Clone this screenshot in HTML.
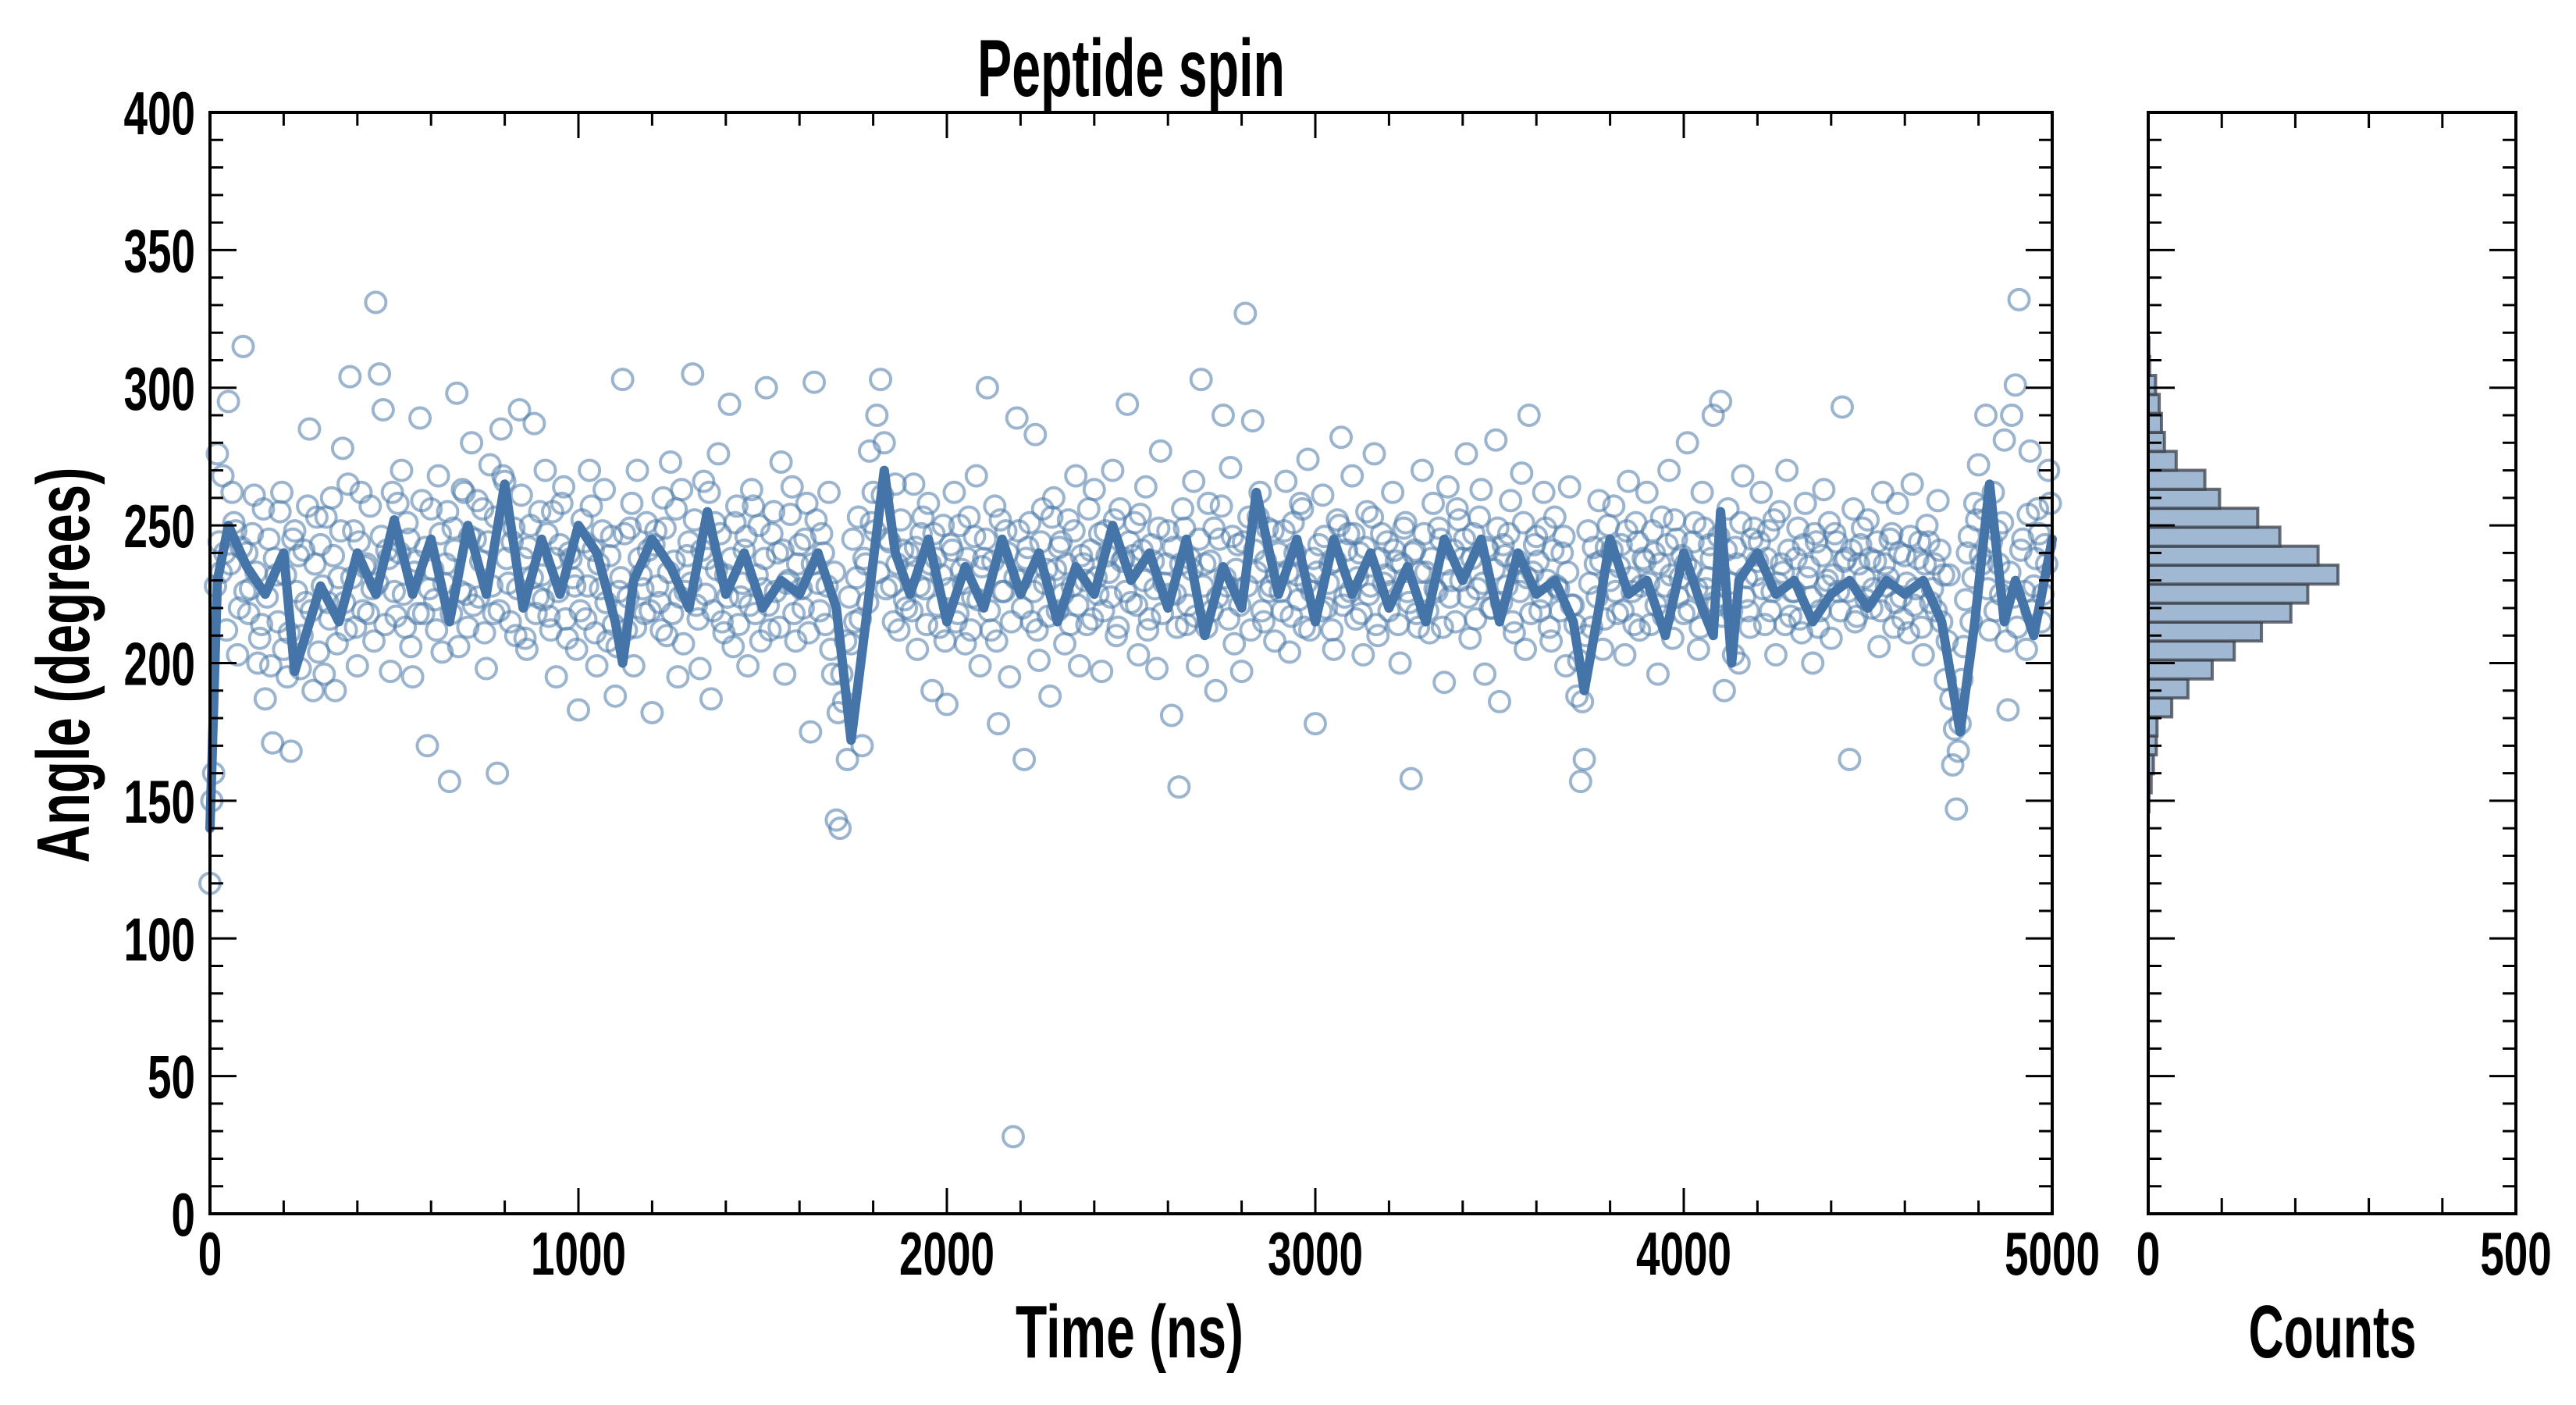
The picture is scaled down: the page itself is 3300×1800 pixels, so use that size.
<!DOCTYPE html>
<html><head><meta charset="utf-8"><style>
html,body{margin:0;padding:0;background:#fff}
svg{display:block}
text{font-family:"Liberation Sans Narrow","Liberation Sans",sans-serif;font-weight:bold;fill:#000}
</style></head><body>
<svg id="chart" width="3300" height="1800" viewBox="0 0 3300 1800" xmlns="http://www.w3.org/2000/svg">
<rect width="3300" height="1800" fill="#fff"/>
<g id="scatterG"></g>
<g id="lineG"></g>
<g id="histG"></g>
<g id="axesG"></g>
<text x="1449" y="123" font-size="104" text-anchor="middle" textLength="394" lengthAdjust="spacingAndGlyphs">Peptide spin</text>
<text x="1447" y="1739" font-size="96" text-anchor="middle" textLength="292" lengthAdjust="spacingAndGlyphs">Time (ns)</text>
<text x="2988" y="1739" font-size="96" text-anchor="middle" textLength="215" lengthAdjust="spacingAndGlyphs">Counts</text>
<text transform="translate(114,852) rotate(-90)" x="0" y="0" font-size="96" text-anchor="middle" textLength="507" lengthAdjust="spacingAndGlyphs">Angle (degrees)</text>
</svg>
<script>
const scatterStep = 10;
const scatterValues = [
120,160,276,233,240,295,262,248,220,315,
240,227,261,200,214,187,245,171,232,255,
205,195,168,248,239,210,222,285,190,253,
243,196,222,260,190,231,278,212,304,248,
199,262,235,218,227,331,305,292,241,197,
226,258,270,213,245,195,237,289,218,170,
256,223,268,204,236,157,249,298,226,262,
213,280,245,224,256,198,272,218,160,285,
266,229,244,210,292,238,205,250,287,224,
232,270,217,255,195,243,264,209,238,228,
183,252,216,270,241,199,227,263,208,246,
188,226,303,212,249,199,270,232,218,241,
182,248,222,260,210,273,237,195,263,226,
244,305,221,198,266,238,187,251,276,215,
232,294,206,257,224,241,199,263,218,250,
227,300,212,255,240,273,196,230,264,208,
243,220,258,175,302,229,247,214,262,196,
143,140,186,165,207,215,253,170,236,277,
262,290,303,280,245,228,265,212,241,220,
232,265,205,247,227,258,190,238,213,250,
185,243,262,218,234,207,253,224,268,199,
238,300,212,257,178,226,248,195,28,289,
230,165,242,215,283,201,256,234,188,260,
219,244,207,252,228,268,199,236,214,241,
263,225,197,248,233,270,210,256,238,294,
222,251,203,241,264,216,237,198,277,229,
248,181,225,155,256,214,238,266,199,303,
236,258,219,190,245,290,228,271,207,243,
197,327,253,288,233,262,215,249,228,208,
240,219,266,204,251,232,258,213,274,226,
178,243,261,220,236,205,252,282,224,247,
268,216,240,203,255,228,276,210,247,232,
219,262,237,200,249,226,158,241,213,270,
233,211,258,226,245,193,264,230,215,252,
238,276,209,247,227,263,196,241,220,281,
186,243,228,259,211,237,269,205,290,233,
246,219,262,230,208,253,227,240,199,264,
221,188,157,165,248,213,236,259,205,242,
230,257,218,243,203,266,226,251,212,238,
262,214,240,196,253,228,270,209,245,231,
218,280,234,251,205,262,227,243,290,221,
295,190,256,219,242,200,268,231,213,249,
237,262,214,248,226,203,255,233,270,217,
226,249,211,258,235,200,244,219,263,230,
209,247,226,293,238,165,256,217,243,231,
252,220,237,206,262,228,245,213,258,224,
239,211,265,227,244,203,250,222,236,259,
215,194,232,163,147,178,206,240,215,258,
272,236,290,212,262,248,225,281,183,290,
301,332,245,205,277,228,256,215,243,270];
const scatterValues2 = [
150,228,244,268,212,236,251,203,242,226,
218,247,233,209,256,224,199,238,215,262,
232,211,245,226,198,241,257,219,236,204,
228,253,216,239,207,248,222,265,231,213,
244,219,236,257,208,229,246,214,238,262,
217,240,225,251,206,233,218,259,242,227,
234,212,247,229,255,218,241,206,263,225,
246,221,259,237,211,244,228,253,219,268,
238,215,249,227,261,209,242,231,218,255,
223,247,212,238,226,258,216,240,231,205,
219,244,228,257,211,236,248,222,239,214,
206,231,247,224,258,213,238,227,251,219,
243,228,212,249,233,218,256,224,207,239,
229,252,216,241,225,262,219,234,247,211,
224,238,251,214,229,246,221,257,232,208,
238,221,247,226,213,241,229,254,218,236,
227,245,211,236,252,219,240,228,205,233,
182,196,208,224,245,231,216,238,222,251,
248,233,261,227,244,215,236,252,223,240,
219,242,228,253,214,236,247,221,232,208,
227,241,215,250,229,238,212,246,223,235,
245,219,237,208,252,226,240,215,231,248,
220,238,251,226,212,244,229,217,253,234,
242,225,236,214,248,221,239,230,256,216,
231,247,219,239,224,252,213,237,226,244,
239,221,254,230,212,243,227,249,218,236,
225,242,213,236,249,221,234,217,245,228,
213,237,249,224,257,231,216,246,234,221,
244,228,212,241,253,219,237,226,248,232,
226,248,233,217,240,223,256,229,212,238,
233,219,246,229,212,237,250,221,241,226,
247,231,218,242,225,253,214,238,229,244,
226,241,214,236,251,222,240,218,233,247,
219,238,227,249,213,236,224,241,256,230,
245,224,238,216,253,229,242,220,234,249,
222,239,247,215,236,226,251,231,218,243,
237,224,249,213,241,228,219,246,233,221,
214,201,186,210,229,242,224,237,216,250,
241,226,235,219,248,231,214,244,228,237,
229,248,221,236,217,243,232,252,224,239,
236,219,244,227,213,249,231,238,222,246,
217,241,229,203,236,251,224,219,245,232,
244,227,238,219,252,229,236,214,241,226,
238,216,243,231,224,247,213,239,228,251,
232,244,219,237,226,241,215,236,249,223,
238,227,244,219,236,231,247,222,240,216,
229,246,221,238,213,236,244,227,219,241,
232,208,187,176,168,194,223,246,231,252,
239,256,227,244,219,236,251,208,233,224,
213,241,226,254,219,238,247,225,236,258];
const lineTimes = [0,20,50,100,150,200,230,300,350,400,450,500,550,600,650,700,750,800,850,900,950,1000,1050,1100,1120,1150,1200,1250,1300,1350,1400,1450,1500,1550,1600,1650,1700,1740,1780,1830,1860,1900,1950,2000,2050,2100,2150,2200,2250,2300,2350,2400,2450,2500,2550,2600,2650,2700,2750,2800,2840,2900,2950,3000,3050,3100,3150,3200,3250,3300,3350,3400,3450,3500,3550,3600,3650,3700,3730,3770,3800,3850,3900,3950,4000,4050,4080,4100,4130,4150,4200,4250,4300,4350,4400,4450,4500,4550,4600,4650,4700,4750,4790,4830,4870,4900,4950,5000];
const lineValues = [140,230,250,235,225,240,197,228,215,240,225,252,225,245,215,250,225,265,220,245,225,250,240,215,200,230,245,235,220,255,225,240,220,230,225,240,220,172,215,270,240,225,245,215,235,220,245,225,240,215,235,225,250,230,240,220,245,210,235,220,262,225,245,215,245,225,240,220,235,215,245,230,245,215,240,225,230,215,190,220,245,225,230,210,240,220,210,255,200,230,240,225,230,215,225,230,220,230,225,230,215,175,215,265,215,230,210,245];
const histStart = 146;
const histBinWidth = 6.89;
const histCounts = [1,4,7,11,12,32,54,87,117,154,194,217,258,231,179,149,97,77,38,22,18,15,10,2,1];
const xTicksMain = [0,1000,2000,3000,4000,5000];
const yTicks = [0,50,100,150,200,250,300,350,400];
const xTicksHist = [0,500];

const NS='http://www.w3.org/2000/svg';
const X0=269,X1=2629,Y0=1555,Y1=144,H0=2752,H1=3223;
const xs=t=>X0+(t/5000)*(X1-X0);
const ys=v=>Y0-(v/400)*(Y0-Y1);
const hs=c=>H0+(c/500)*(H1-H0);
function mk(tag,parent,attrs){const e=document.createElementNS(NS,tag);for(const k in attrs)e.setAttribute(k,attrs[k]);parent.appendChild(e);return e;}

const sg=document.getElementById('scatterG');
function drawScatter(arr,offset){
  arr.forEach((v,i)=>{
    const c=mk('circle',sg,{cx:xs(i*scatterStep+offset),cy:ys(v),r:13,fill:'none',stroke:'#4a78a8','stroke-opacity':0.55,'stroke-width':4});
    
    
  });
}
drawScatter(scatterValues,0);
drawScatter(scatterValues2,5);

const lg=document.getElementById('lineG');
const pl=mk('polyline',lg,{points:lineTimes.map((t,i)=>xs(t)+','+ys(lineValues[i])).join(' '),fill:'none',stroke:'#4474a8','stroke-width':12,'stroke-linejoin':'round','stroke-linecap':'round'});



const hg=document.getElementById('histG');
histCounts.forEach((c,i)=>{
  const lo=histStart+i*histBinWidth, hi=lo+histBinWidth;
  const r=mk('rect',hg,{x:H0,y:ys(hi),width:hs(c)-H0,height:ys(lo)-ys(hi),fill:'#a0b8d2',stroke:'#3a3f48','stroke-opacity':0.75,'stroke-width':4});
  
  
});

const ag=document.getElementById('axesG');
function frame(x0,x1,name){
  const r=mk('rect',ag,{x:x0,y:Y1,width:x1-x0,height:Y0-Y1,fill:'none',stroke:'#000','stroke-width':4});
  
  
}
frame(X0,X1,'main-plot-frame');
frame(H0,H1,'hist-plot-frame');
function line(x1,y1,x2,y2){mk('line',ag,{x1:x1,y1:y1,x2:x2,y2:y2,stroke:'#000','stroke-width':3});}
for(let t=0;t<=5000;t+=200){const x=xs(t);const L=(t%1000===0)?33:17;line(x,Y0,x,Y0-L);line(x,Y1,x,Y1+L);}
for(let v=0;v<=400;v+=10){const y=ys(v);const L=(v%50===0)?34:17;line(X0,y,X0+L,y);line(X1,y,X1-L,y);line(H0,y,H0+L,y);line(H1,y,H1-L,y);}
for(let c=0;c<=500;c+=100){const x=hs(c);line(x,Y0,x,Y0-20);line(x,Y1,x,Y1+20);}
function label(txt,x,y,anchor,name){
  const t=mk('text',ag,{x:x,y:y,'font-size':78,'text-anchor':anchor,textLength:txt.length*30.5,lengthAdjust:'spacingAndGlyphs'});
  t.textContent=txt;
  
  
}
yTicks.forEach(v=>label(String(v),250,ys(v)+28,'end','y-tick-label'));
xTicksMain.forEach(t=>label(String(t),xs(t),1633,'middle','x-tick-label'));
xTicksHist.forEach(c=>label(String(c),hs(c),1633,'middle','hist-x-tick-label'));
</script>
</body></html>
